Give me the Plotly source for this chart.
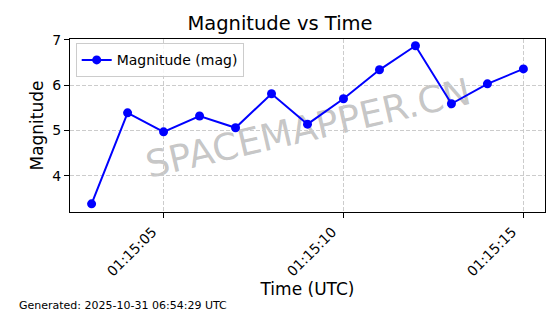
import plotly.graph_objects as go

times = ["2025-10-31 01:15:03", "2025-10-31 01:15:04", "2025-10-31 01:15:05", "2025-10-31 01:15:06",
         "2025-10-31 01:15:07", "2025-10-31 01:15:08", "2025-10-31 01:15:09", "2025-10-31 01:15:10",
         "2025-10-31 01:15:11", "2025-10-31 01:15:12", "2025-10-31 01:15:13", "2025-10-31 01:15:14",
         "2025-10-31 01:15:15"]
magnitude = [3.38, 5.39, 4.97, 5.32, 5.06, 5.81, 5.14, 5.70, 6.34, 6.87, 5.59, 6.03, 6.36]
y_ticks = [4, 5, 6, 7]

FONT = "DejaVu Sans"

fig = go.Figure()
fig.add_trace(go.Scatter(
    x=times, y=magnitude, mode="lines+markers", name="Magnitude (mag)",
    line=dict(color="#0000ff", width=2),
    marker=dict(color="#0000ff", size=9),
))

fig.update_layout(
    width=560, height=314,
    margin=dict(l=70, r=15, t=39, b=102),
    paper_bgcolor="white", plot_bgcolor="white",
    font=dict(family=FONT, size=14, color="black"),
    title=dict(text="Magnitude vs Time", x=0.5, xanchor="center", y=0.925, yanchor="middle",
               font=dict(size=19.5, family=FONT, color="black")),
    showlegend=True,
    legend=dict(x=0.012, y=0.975, xanchor="left", yanchor="top",
                bgcolor="rgba(255,255,255,0.8)", bordercolor="#cccccc", borderwidth=1,
                font=dict(size=14, family=FONT)),
    xaxis=dict(
        type="date",
        range=["2025-10-31 01:15:02.4", "2025-10-31 01:15:15.6"],
        tick0="2025-10-31 01:15:00", dtick=5000, tickformat="%H:%M:%S",
        tickangle=-45, ticks="outside", ticklen=5, tickcolor="black",
        ticklabelshift=-11,
        showline=True, linecolor="black", linewidth=1.3, mirror=True,
        showgrid=True, gridcolor="#cccccc", griddash="4px,2px", gridwidth=1,
        zeroline=False,
        title=dict(text="Time (UTC)", font=dict(size=17, family=FONT), standoff=4),
        tickfont=dict(size=14, family=FONT),
    ),
    yaxis=dict(
        range=[3.2, 7.02], tickvals=y_ticks,
        ticks="outside", ticklen=5, tickcolor="black",
        showline=True, linecolor="black", linewidth=1.3, mirror=True,
        showgrid=True, gridcolor="#cccccc", griddash="4px,2px", gridwidth=1,
        zeroline=False,
        title=dict(text="Magnitude", font=dict(size=17, family=FONT), standoff=4),
        tickfont=dict(size=14, family=FONT),
    ),
)

# Watermark drawn beneath the data line
fig.add_shape(
    type="rect", xref="paper", yref="paper", x0=0.3, x1=0.7, y0=0.4, y1=0.6,
    line=dict(width=0), fillcolor="rgba(0,0,0,0)", layer="between",
    label=dict(text="SPACEMAPPER.CN", textangle=-13, textposition="middle center",
               font=dict(size=37, family=FONT, color="rgba(128,128,128,0.45)")),
)
fig.add_annotation(
    text="Generated: 2025-10-31 06:54:29 UTC", xref="paper", yref="paper",
    x=(17 - 70) / 475, y=(212 - 305) / 173, xanchor="left", yanchor="middle",
    showarrow=False, font=dict(size=11, family=FONT, color="black"),
)

fig.write_html("out.html")
